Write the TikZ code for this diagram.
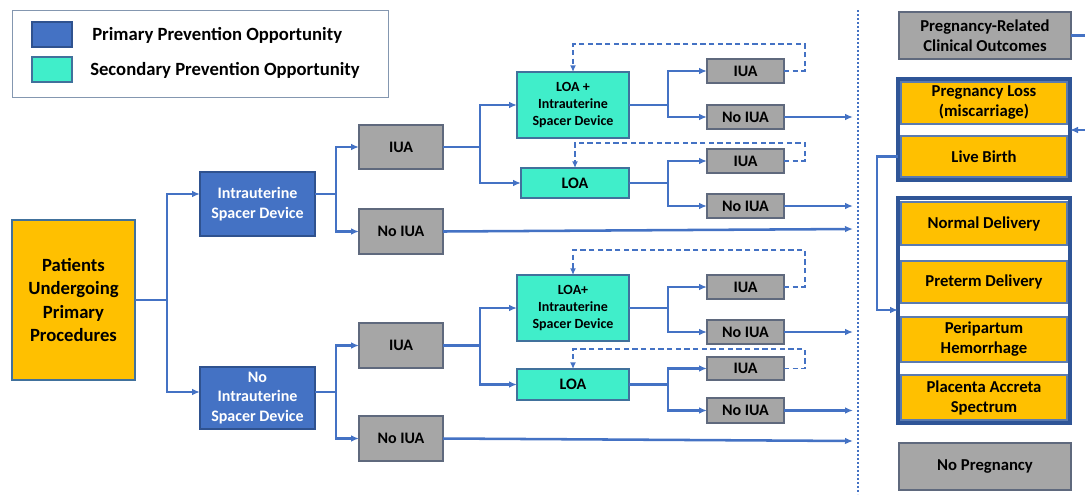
\documentclass[tikz,border=0pt]{standalone}
\usepackage{fontspec}
\setmainfont{Carlito}
\usetikzlibrary{arrows.meta,calc}
\definecolor{lineblue}{HTML}{4472C4}
\definecolor{pblue}{HTML}{4472C4}
\definecolor{pblueb}{HTML}{2F528F}
\definecolor{steal}{RGB}{64,238,202}
\definecolor{stealb}{HTML}{41719C}
\definecolor{gfill}{HTML}{A6A6A6}
\definecolor{gbord}{RGB}{95,105,125}
\definecolor{yfill}{HTML}{FFC000}
\definecolor{ybord}{HTML}{5B7BB0}
\definecolor{obord}{HTML}{2F5597}
\definecolor{legb}{HTML}{8497B0}
\newcommand\mkbox[7]{%
  \pgfmathsetmacro\bw{(#5-#3)*0.75}\pgfmathsetmacro\bh{(#6-#4)*0.75}%
  \node[#1, anchor=north west, minimum width=\bw pt, minimum height=\bh pt] (#2) at (#3,#4) {#7};}
\tikzset{
  base/.style={rectangle, draw, line width=1pt, align=center, inner sep=0pt, outer sep=0pt,
    font=\fontsize{12}{15}\selectfont\bfseries},
  prim/.style={base, fill=pblue, draw=pblueb, text=white},
  sec/.style={base, fill=steal, draw=stealb},
  grey/.style={base, fill=gfill, draw=gbord},
  rfont/.style={font=\fontsize{12.5}{15}\selectfont\bfseries},
  yel/.style={base, fill=yfill, draw=ybord, line width=0.8pt, rfont},
  outer/.style={rectangle, draw=obord, line width=2.3pt, inner sep=0pt, outer sep=0pt},
  ln/.style={draw=lineblue, line width=1.9pt},
  arr/.style={ln, -{Latex[length=6pt,width=5pt]}},
  loop/.style={draw=lineblue, line width=1.4pt, dashed, dash pattern=on 4pt off 2.5pt, -{Latex[length=5pt,width=4.5pt]}},
}
\begin{document}
\begin{tikzpicture}[x=0.75pt,y=-0.75pt]
\useasboundingbox (0,0) rectangle (1085,494);
\clip (0,0) rectangle (1085,494);
% legend
\mkbox{rectangle, draw=legb, line width=0.9pt}{legend}{12}{10}{388}{97}{}
\mkbox{prim}{swp}{32}{22}{72}{47}{}
\mkbox{sec}{sws}{32}{57}{72}{82}{}
\node[anchor=west, inner sep=0pt, font=\fontsize{14}{16}\selectfont\bfseries] (tp) at (92,35) {Primary Prevention Opportunity};
\node[anchor=west, inner sep=0pt, font=\fontsize{14}{16}\selectfont\bfseries] (ts) at (90,70) {Secondary Prevention Opportunity};
% tree
\mkbox{base, fill=yfill, draw=stealb, font=\fontsize{14}{17.3}\selectfont\bfseries}{pat}{12}{220}{135}{380}{Patients\\Undergoing\\Primary\\Procedures}
\mkbox{prim}{isd}{200}{172}{315}{236}{Intrauterine\\Spacer Device}
\mkbox{prim, font=\fontsize{12}{14.3}\selectfont\bfseries}{nisd}{200}{367}{315}{429}{No\\Intrauterine\\Spacer Device}
\mkbox{grey}{iuaA}{359}{125}{443}{169}{IUA}
\mkbox{grey}{niuaA}{359}{209}{443}{254}{No IUA}
\mkbox{grey}{iuaB}{359}{323}{443}{368}{IUA}
\mkbox{grey}{niuaB}{359}{416}{443}{461}{No IUA}
\mkbox{sec, font=\fontsize{10.5}{12.4}\selectfont\bfseries}{loaisdA}{517}{72}{629}{138}{LOA +\\Intrauterine\\Spacer Device}
\mkbox{sec}{loaA}{521}{168}{629}{198}{LOA}
\mkbox{sec, font=\fontsize{10.5}{12.4}\selectfont\bfseries}{loaisdB}{517}{275}{629}{341}{LOA+\\Intrauterine\\Spacer Device}
\mkbox{sec}{loaB}{517}{369}{629}{400}{LOA}
\mkbox{grey}{s1}{707}{59}{784}{83}{IUA}
\mkbox{grey}{s2}{707}{105}{784}{129}{No IUA}
\mkbox{grey}{s3}{707}{149}{784}{173}{IUA}
\mkbox{grey}{s4}{707}{194}{784}{218}{No IUA}
\mkbox{grey}{s5}{707}{275}{784}{299}{IUA}
\mkbox{grey}{s6}{707}{320}{784}{344}{No IUA}
\mkbox{grey}{s7}{707}{357}{784}{380}{IUA}
\mkbox{grey}{s8}{707}{398}{784}{423}{No IUA}
% junction x positions
\coordinate (j1) at (167,0);
\coordinate (j2) at (336,0);
\coordinate (j3) at (480,0);
\coordinate (j4) at (668,0);
\coordinate (lx) at (805,0);
\coordinate (ex) at (853,0);
\coordinate (isdp) at ([yshift=7.5pt]isd.west);
\coordinate (nisdp) at ([yshift=4.5pt]nisd.west);
\draw[arr] (pat.east) -- (pat.east -| j1) |- (isdp);
\draw[arr] (pat.east -| j1) |- (nisdp);
\draw[arr] (isdp -| isd.east) -- (isdp -| j2) |- (iuaA.west);
\draw[arr] (isdp -| j2) |- (niuaA.west);
\draw[arr] (nisdp -| nisd.east) -- (nisdp -| j2) |- (iuaB.west);
\draw[arr] (nisdp -| j2) |- (niuaB.west);
\draw[arr] (iuaA.east) -- (iuaA.east -| j3) |- (loaisdA.west);
\draw[arr] (iuaA.east -| j3) |- (loaA.west);
\draw[arr] (iuaB.east) -- (iuaB.east -| j3) |- (loaisdB.west);
\draw[arr] (iuaB.east -| j3) |- (loaB.west);
\draw[arr] (loaisdA.east) -- (loaisdA.east -| j4) |- (s1.west);
\draw[arr] (loaisdA.east -| j4) |- (s2.west);
\draw[arr] (loaA.east) -- (loaA.east -| j4) |- (s3.west);
\draw[arr] (loaA.east -| j4) |- (s4.west);
\draw[arr] (loaisdB.east) -- (loaisdB.east -| j4) |- (s5.west);
\draw[arr] (loaisdB.east -| j4) |- (s6.west);
\draw[arr] (loaB.east) -- (loaB.east -| j4) |- (s7.west);
\draw[arr] (loaB.east -| j4) |- (s8.west);
% dashed loops
\draw[loop] (s1.east) -- (s1.east -| lx) -- (805,44) -- (573,44) -- (573,72);
\draw[loop] (s3.east) -- (s3.east -| lx) -- (805,143) -- (575,143) -- (575,168);
\draw[loop] (s5.east) -- (s5.east -| lx) -- (805,250) -- (573,250) -- (573,275);
\draw[loop] (s7.east) -- (s7.east -| lx) -- (805,349) -- (573,349) -- (573,369);
% outgoing arrows
\coordinate (eA) at (853,229);
\coordinate (eB) at (853,441);
\draw[arr] (s2.east) -- (s2.east -| ex);
\draw[arr] (s4.east) -- (s4.east -| ex);
\draw[arr] (s6.east) -- (s6.east -| ex);
\draw[arr] (s8.east) -- (s8.east -| ex);
\draw[arr] (niuaA.east) -- (eA);
\draw[arr] (niuaB.east) -- (eB);
% divider
\coordinate (dtop) at (858,10);
\coordinate (dbot) at (858,494);
\draw[draw=lineblue, line width=1.6pt, dash pattern=on 1.6pt off 1.4pt] (dtop) -- (dbot);
% right column
\mkbox{grey, rfont}{prco}{899}{12}{1071}{59}{Pregnancy-Related\\Clinical Outcomes}
\mkbox{outer}{o1}{898}{79}{1070}{180}{}
\mkbox{yel}{pl}{901}{82}{1067}{124}{Pregnancy Loss\\(miscarriage)}
\mkbox{yel}{lb}{901}{136}{1067}{177}{Live Birth}
\mkbox{outer}{o2}{898}{198}{1070}{423}{}
\mkbox{yel}{nd}{901}{202}{1067}{245}{Normal Delivery}
\mkbox{yel}{pd}{901}{261}{1067}{303}{Preterm Delivery}
\mkbox{yel}{ph}{901}{317}{1067}{362}{Peripartum\\Hemorrhage}
\mkbox{yel}{pas}{901}{375}{1067}{420}{Placenta Accreta\\Spectrum}
\mkbox{grey, rfont}{np}{899}{443}{1071}{490}{No Pregnancy}
\coordinate (g1) at ($(pl.south)!0.5!(lb.north)$);
\coordinate (g2) at ($(pd.south)!0.5!(ph.north)$);
\coordinate (rx) at (1093,0);
\coordinate (lbx) at (877,0);
\draw[arr] (prco.east) -- (prco.east -| rx) |- (o1.east |- g1);
\draw[arr] (o1.west |- lb.west) -- (lb.west -| lbx) |- (o2.west |- g2);
\end{tikzpicture}
\end{document}
